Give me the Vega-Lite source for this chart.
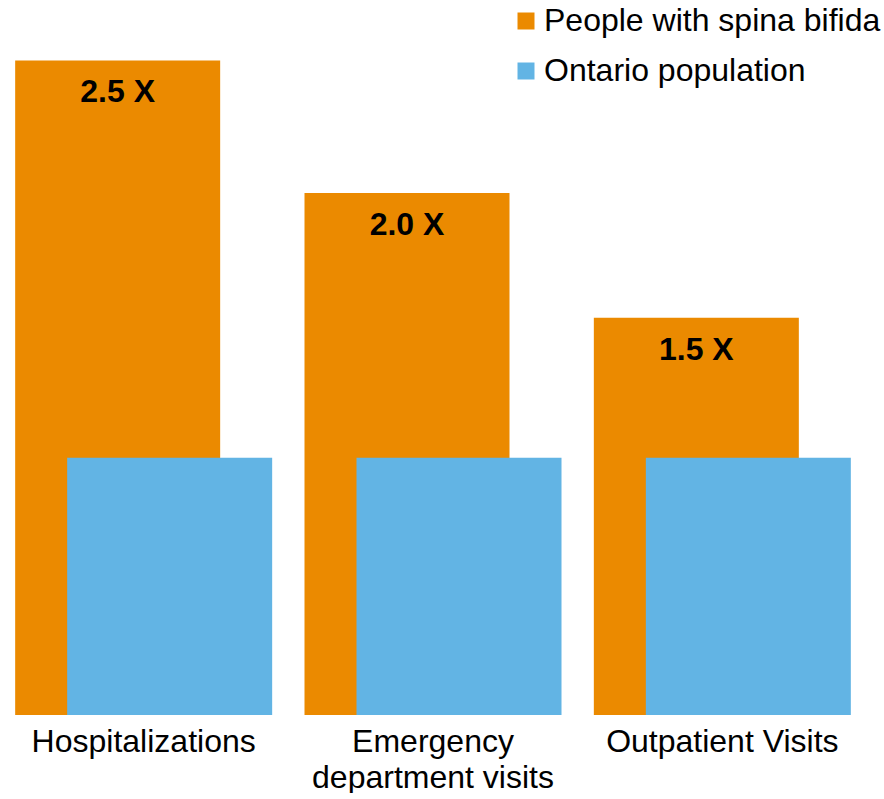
{
  "$schema": "https://vega.github.io/schema/vega-lite/v6.json",
  "width": 868,
  "height": 715,
  "padding": {"left": -1, "top": 0, "right": 0, "bottom": 0},
  "background": "white",
  "config": {
    "view": {"stroke": null},
    "font": "Liberation Sans"
  },
  "data": {
    "values": [
      {"category": "Hospitalizations", "group": "People with spina bifida", "value": 2.545, "label": "2.5 X"},
      {"category": "Emergency department visits", "group": "People with spina bifida", "value": 2.03, "label": "2.0 X"},
      {"category": "Outpatient Visits", "group": "People with spina bifida", "value": 1.545, "label": "1.5 X"},
      {"category": "Hospitalizations", "group": "Ontario population", "value": 1.0, "label": ""},
      {"category": "Emergency department visits", "group": "Ontario population", "value": 1.0, "label": ""},
      {"category": "Outpatient Visits", "group": "Ontario population", "value": 1.0, "label": ""}
    ]
  },
  "encoding": {
    "x": {
      "field": "category",
      "type": "nominal",
      "sort": null,
      "scale": {"paddingInner": 0, "paddingOuter": 0},
      "axis": {
        "title": null,
        "domain": false,
        "ticks": false,
        "labelAngle": 0,
        "labelFontSize": 32,
        "labelColor": "#000000",
        "labelPadding": 11,
        "labelLimit": 0,
        "labelLineHeight": 36,
        "labelExpr": "datum.value == 'Emergency department visits' ? ['Emergency', 'department visits'] : datum.value"
      }
    },
    "y": {
      "field": "value",
      "type": "quantitative",
      "scale": {"domain": [0, 2.78]},
      "axis": null
    }
  },
  "layer": [
    {
      "transform": [{"filter": "datum.group == 'People with spina bifida'"}],
      "mark": {"type": "bar", "width": 205, "xOffset": -26},
      "encoding": {
        "color": {
          "field": "group",
          "type": "nominal",
          "scale": {"domain": ["People with spina bifida", "Ontario population"], "range": ["#EB8A00", "#62B4E4"]},
          "legend": {
            "title": null,
            "orient": "none",
            "legendX": 511,
            "legendY": 5,
            "symbolType": "square",
            "symbolSize": 289,
            "symbolStrokeWidth": 0,
            "labelFontSize": 32,
            "labelColor": "#000000",
            "labelOffset": 2,
            "rowPadding": 18,
            "padding": 0,
            "labelLimit": 0
          }
        }
      }
    },
    {
      "transform": [{"filter": "datum.group == 'Ontario population'"}],
      "mark": {"type": "bar", "width": 205, "xOffset": 26},
      "encoding": {
        "color": {"field": "group", "type": "nominal"}
      }
    },
    {
      "transform": [{"filter": "datum.group == 'People with spina bifida'"}],
      "mark": {"type": "text", "xOffset": -26, "baseline": "middle", "dy": 32, "fontSize": 32, "fontWeight": "bold", "color": "#000000"},
      "encoding": {
        "text": {"field": "label"}
      }
    }
  ]
}
